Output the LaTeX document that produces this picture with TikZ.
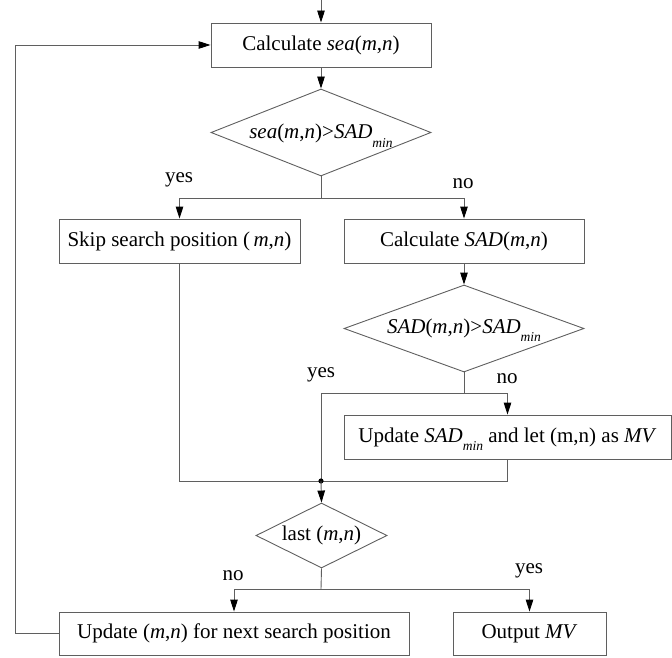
\documentclass[tikz,border=0pt]{standalone}
\usepackage{fontspec}
\setmainfont{Liberation Serif}
\usetikzlibrary{arrows.meta,shapes.geometric}
\definecolor{ln}{RGB}{95,95,95}
\newcommand\minsub{\raisebox{-8.5pt}{\fontsize{13.5}{14}\selectfont\textit{min}}}
\begin{document}
\begin{tikzpicture}[x=1pt,y=-1pt,
  every node/.style={font=\fontsize{21}{24}\selectfont},
  box/.style={draw=ln,line width=0.9pt,rectangle,minimum height=44pt,inner sep=0pt},
  dia/.style={draw=ln,line width=0.9pt,diamond,inner sep=0pt},
  lbl/.style={inner sep=0pt},
  conn/.style={draw=ln,line width=0.9pt},
  arr/.style={conn,-{Triangle[length=12pt,width=7.5pt,fill=black,color=black]}}]
\useasboundingbox (0,0) rectangle (672,658);
\coordinate (start) at (321,0);
\node[box,minimum width=220pt] (b1) at (321,45) {Calculate \textit{sea}(\textit{m},\textit{n})};
\node[dia,minimum width=220pt,minimum height=87pt] (d1) at (321,132.5) {};
\node[lbl,anchor=base] at (321,139) {\textit{sea}(\textit{m},\textit{n})>\textit{SAD}\minsub};
\node[box,minimum width=241pt] (skip) at (179.5,241) {Skip search position (\,\textit{m},\textit{n})};
\node[box,minimum width=240pt] (sad) at (464,241) {Calculate \textit{SAD}(\textit{m},\textit{n})};
\node[dia,minimum width=240pt,minimum height=87pt] (d2) at (464,328.5) {};
\node[lbl,anchor=base] at (464,333) {\textit{SAD}(\textit{m},\textit{n})>\textit{SAD}\minsub};
\node[box,minimum width=327pt] (upd) at (507.5,437) {};
\node[lbl,anchor=base] at (507.5,442) {Update \textit{SAD}\minsub{} and let (m,n) as \textit{MV}};
\coordinate (j) at (321,481);
\node[dia,minimum width=131pt,minimum height=65pt] (d3) at (321.5,535.5) {};
\node[lbl] at (d3) {last (\textit{m},\textit{n})};
\node[box,minimum width=350pt,minimum height=43pt] (next) at (234,633.5) {Update (\textit{m},\textit{n}) for next search position};
\node[box,minimum width=153pt,minimum height=43pt] (out) at (529.5,633.5) {Output \textit{MV}};
% labels
\node[lbl] at (179,180) {yes};
\node[lbl] at (463,184) {no};
\node[lbl] at (321,375) {yes};
\node[lbl] at (507,379) {no};
\node[lbl] at (233,576) {no};
\node[lbl] at (529,571) {yes};
% connectors
\draw[arr] (start) -- (b1.north);
\draw[arr] (b1.south) -- (d1.north);
\draw[conn] (d1.south) -- (321,198);
\draw[arr] (321,198) -| (skip.north);
\draw[arr] (321,198) -| (sad.north);
\draw[arr] (sad.south) -- (d2.north);
\draw[conn] (d2.south) -- (464,393);
\draw[arr] (464,393) -| (upd.north);
\draw[conn] (464,393) -| (j);
\draw[conn] (skip.south) |- (j);
\draw[conn] (upd.south) |- (j);
\fill (j) circle (2.6pt);
\draw[arr] (j) -- (d3.north);
\draw[conn] (d3.south) -- (321,589);
\draw[arr] (321,589) -| (next.north);
\draw[arr] (321,589) -| (out.north);
\draw[arr] (next.west) -- (15,633.5) |- (b1.west);
\end{tikzpicture}
\end{document}
